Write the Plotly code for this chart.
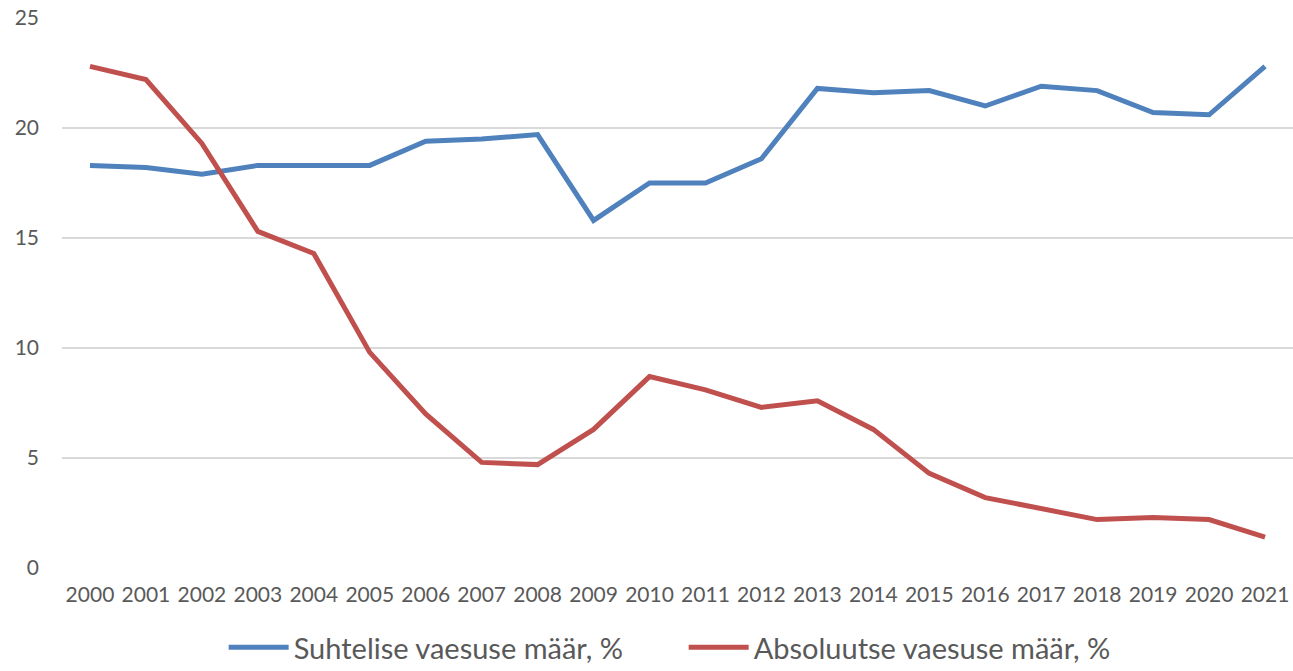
import plotly.graph_objects as go

years = [str(y) for y in range(2000, 2022)]

suhteline = [18.3, 18.2, 17.9, 18.3, 18.3, 18.3, 19.4, 19.5, 19.7, 15.8, 17.5,
             17.5, 18.6, 21.8, 21.6, 21.7, 21.0, 21.9, 21.7, 20.7, 20.6, 22.8]
absoluutne = [22.8, 22.2, 19.3, 15.3, 14.3, 9.8, 7.0, 4.8, 4.7, 6.3, 8.7,
              8.1, 7.3, 7.6, 6.3, 4.3, 3.2, 2.7, 2.2, 2.3, 2.2, 1.4]

font_family = "Lato, 'Open Sans', sans-serif"

fig = go.Figure()
fig.add_trace(go.Scatter(x=years, y=suhteline, mode="lines",
                         name="Suhtelise vaesuse määr, %",
                         line=dict(color="#4F81BD", width=5)))
fig.add_trace(go.Scatter(x=years, y=absoluutne, mode="lines",
                         name="Absoluutse vaesuse määr, %",
                         line=dict(color="#C0504D", width=5)))

fig.update_layout(
    width=1293, height=671,
    margin=dict(l=62, r=0, t=18, b=103),
    plot_bgcolor="white", paper_bgcolor="white",
    font=dict(family=font_family, color="#595959", size=21),
    showlegend=True,
    legend=dict(orientation="h", x=0.505, xanchor="center",
                yref="container", y=0.035, yanchor="middle",
                font=dict(size=29, color="#595959"), itemwidth=60,
                entrywidth=385),
    xaxis=dict(type="category", range=[-0.5, 21.5], showgrid=False,
               showline=False, ticks="", tickfont=dict(size=21),
               automargin=False, ticklabelstandoff=12),
    yaxis=dict(range=[0, 25], dtick=5, showgrid=True, gridcolor="#D9D9D9",
               gridwidth=1.5, zeroline=False, showline=False,
               tickfont=dict(size=21), ticklabelstandoff=22,
               automargin=False),
)

fig.write_html("out.html", config={"displayModeBar": False},
               post_script="document.body.style.margin='0';")
